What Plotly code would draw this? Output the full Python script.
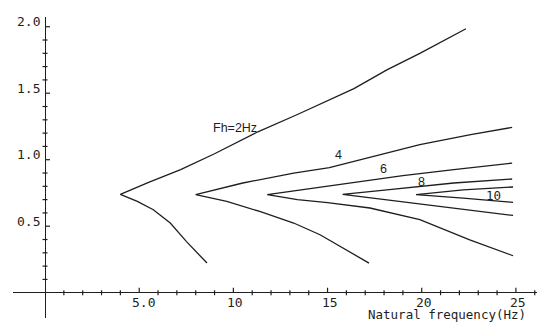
import plotly.graph_objects as go

# ---- data ----
fh2_up_x = [4.0, 5.5, 7.2, 9.0, 11.3, 13.4, 15.1, 16.4, 18.15, 19.9, 22.35]
fh2_up_y = [0.74, 0.83, 0.925, 1.045, 1.21, 1.34, 1.45, 1.535, 1.675, 1.80, 1.985]
fh2_lo_x = [4.0, 4.9, 5.75, 6.65, 7.5, 8.6]
fh2_lo_y = [0.74, 0.687, 0.624, 0.524, 0.386, 0.223]

fh4_up_x = [8.0, 10.5, 13.2, 15.1, 16.4, 18.15, 19.9, 22.6, 24.8]
fh4_up_y = [0.737, 0.825, 0.90, 0.94, 0.987, 1.05, 1.113, 1.188, 1.243]
fh4_lo_x = [8.0, 9.65, 11.4, 13.2, 14.6, 15.65, 17.2]
fh4_lo_y = [0.737, 0.687, 0.611, 0.524, 0.436, 0.348, 0.223]

fh6_up_x = [11.8, 13.4, 15.0, 16.4, 19.0, 21.7, 24.8]
fh6_up_y = [0.737, 0.77, 0.80, 0.832, 0.88, 0.925, 0.975]
fh6_lo_x = [11.8, 13.4, 15.0, 17.25, 19.9, 22.55, 24.85]
fh6_lo_y = [0.737, 0.70, 0.678, 0.637, 0.549, 0.398, 0.278]

fh8_up_x = [15.8, 18.15, 21.7, 24.8]
fh8_up_y = [0.74, 0.774, 0.825, 0.855]
fh8_lo_x = [15.8, 18.15, 21.7, 24.85]
fh8_lo_y = [0.74, 0.70, 0.637, 0.581]

fh10_up_x = [19.7, 22.2, 24.85]
fh10_up_y = [0.737, 0.774, 0.795]
fh10_lo_x = [19.7, 22.2, 24.85]
fh10_lo_y = [0.737, 0.712, 0.679]

curve_labels = ["Fh=2Hz", "4", "6", "8", "10"]
curve_label_x = [10.1, 15.58, 17.97, 19.98, 23.8]
curve_label_y = [1.238, 1.032, 0.932, 0.830, 0.730]

x_major = [5, 10, 15, 20, 25]
x_major_labels = ["5.0", "10", "15", "20", "25"]
x_minor = [v for v in range(1, 27) if v % 5 != 0]
y_major = [0.5, 1.0, 1.5, 2.0]
y_major_labels = ["0.5", "1.0", "1.5", "2.0"]
y_minor = [round(0.1 * i, 1) for i in range(1, 20) if i % 5 != 0]

INK = "#1e1e1e"
MONO = "DejaVu Sans Mono"
SANS = "Liberation Sans"

fig = go.Figure()
curves = [
    (fh2_lo_x, fh2_lo_y, fh2_up_x, fh2_up_y),
    (fh4_lo_x, fh4_lo_y, fh4_up_x, fh4_up_y),
    (fh6_lo_x, fh6_lo_y, fh6_up_x, fh6_up_y),
    (fh8_lo_x, fh8_lo_y, fh8_up_x, fh8_up_y),
    (fh10_lo_x, fh10_lo_y, fh10_up_x, fh10_up_y),
]
for lx, ly, ux, uy in curves:
    xs = list(reversed(lx)) + ux[1:]
    ys = list(reversed(ly)) + uy[1:]
    fig.add_trace(go.Scatter(x=xs, y=ys, mode="lines",
                             line=dict(color=INK, width=1.3),
                             hoverinfo="skip", showlegend=False))

shapes = []
for v in x_minor:
    shapes.append(dict(type="line", xref="x", yref="y", x0=v, x1=v,
                       ysizemode="pixel", yanchor=0, y0=-2.5, y1=2.5,
                       line=dict(color=INK, width=1.2)))
for v in x_major:
    shapes.append(dict(type="line", xref="x", yref="y", x0=v, x1=v,
                       ysizemode="pixel", yanchor=0, y0=0, y1=5,
                       line=dict(color=INK, width=1.2)))
for v in y_minor:
    shapes.append(dict(type="line", xref="x", yref="y", y0=v, y1=v,
                       xsizemode="pixel", xanchor=0, x0=-2.5, x1=2.5,
                       line=dict(color=INK, width=1.2)))
for v in y_major:
    shapes.append(dict(type="line", xref="x", yref="y", y0=v, y1=v,
                       xsizemode="pixel", xanchor=0, x0=0, x1=5,
                       line=dict(color=INK, width=1.2)))

annotations = []
for v, t in zip(y_major, y_major_labels):
    annotations.append(dict(x=0, y=v, xref="x", yref="y", text=t, showarrow=False,
                            xanchor="right", yanchor="middle", xshift=-3, yshift=5,
                            font=dict(family=MONO, size=13, color=INK)))
for v, t in zip(x_major, x_major_labels):
    annotations.append(dict(x=v, y=0, xref="x", yref="y", text=t, showarrow=False,
                            xanchor="center", yanchor="middle",
                            xshift=4 if t == "5.0" else 2, yshift=-10,
                            font=dict(family=MONO, size=13, color=INK)))
for t, x, y in zip(curve_labels, curve_label_x, curve_label_y):
    annotations.append(dict(x=x, y=y, xref="x", yref="y", text=t, showarrow=False,
                            xanchor="center", yanchor="middle",
                            font=dict(family=MONO if t == "10" else SANS, size=12.5, color=INK)))
annotations.append(dict(x=0, y=2.128, xref="x", yref="y", text="Damping coeff",
                        showarrow=False, xanchor="left", yanchor="middle", xshift=1,
                        font=dict(family=MONO, size=12.5, color=INK)))
annotations.append(dict(x=25.65, y=-0.165, xref="x", yref="y", text="Natural frequency(Hz)",
                        showarrow=False, xanchor="right", yanchor="middle",
                        font=dict(family=MONO, size=12.5, color=INK)))

# page body has an 8px margin: figure is 540x319 so it fills the 548x327 window
fig.update_layout(
    width=540, height=319,
    margin=dict(l=5, r=11, t=9, b=9),
    paper_bgcolor="white", plot_bgcolor="white",
    shapes=shapes, annotations=annotations,
    xaxis=dict(range=[-1.70, 26.12], showgrid=False, showline=False, showticklabels=False,
               ticks="", zeroline=True, zerolinecolor=INK, zerolinewidth=1.3, fixedrange=True),
    yaxis=dict(range=[-0.19, 2.073], showgrid=False, showline=False, showticklabels=False,
               ticks="", zeroline=True, zerolinecolor=INK, zerolinewidth=1.3, fixedrange=True),
)

fig.write_html("out.html")
